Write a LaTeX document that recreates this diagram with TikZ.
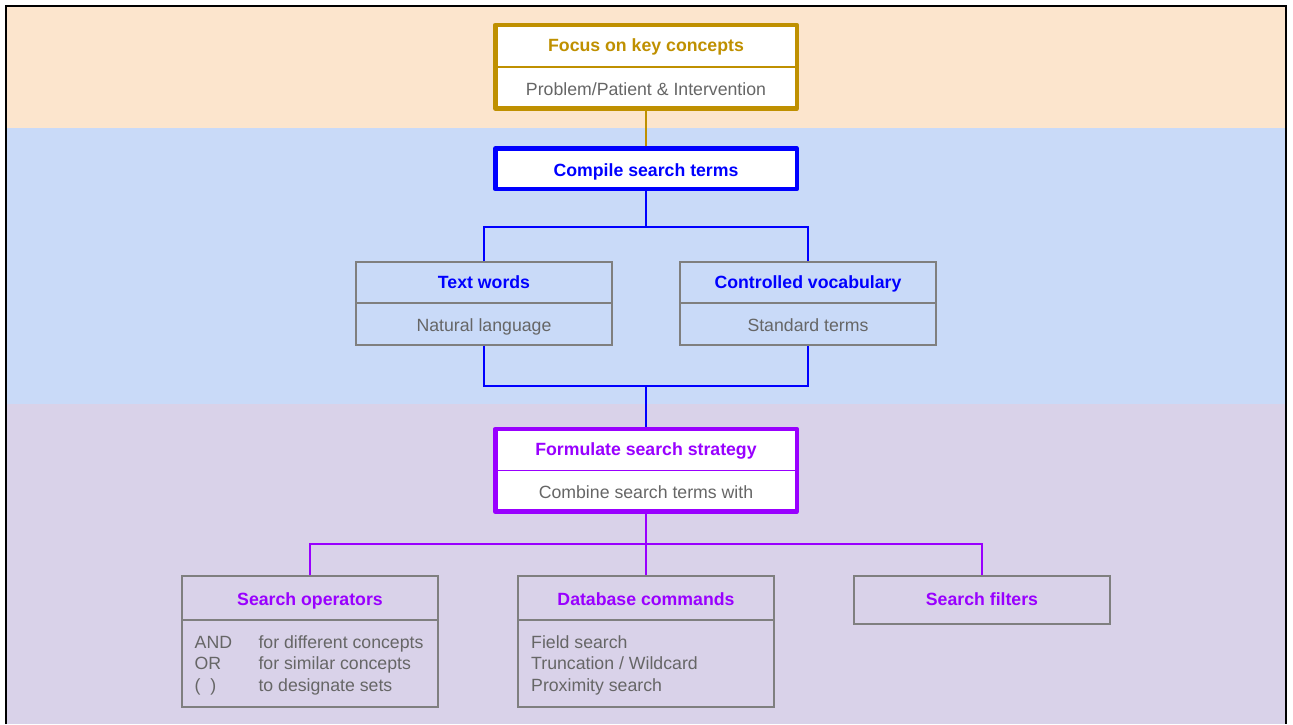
\documentclass[tikz,border=0pt]{standalone}
\usepackage{fontspec}
\setmainfont{Liberation Sans}
\definecolor{bandpeach}{HTML}{FCE5CD}
\definecolor{bandblue}{HTML}{C9DAF8}
\definecolor{bandpurple}{HTML}{D9D2E9}
\definecolor{gold}{HTML}{BF9000}
\definecolor{pureblue}{HTML}{0000FF}
\definecolor{violet}{HTML}{9900FF}
\definecolor{txtgray}{HTML}{666666}
\definecolor{linegray}{HTML}{7F7F7F}
\begin{document}
\begin{tikzpicture}[x=1pt,y=-1pt,
  boxbase/.style={draw, rectangle, inner sep=0pt},
  heavybox/.style={boxbase, fill=white, line width=4.5pt, line join=round, minimum width=301.5pt},
  lightbox/.style={boxbase, draw=linegray, line width=1.5pt, minimum width=256pt},
  label/.style={font=\fontsize{17.7}{21.5}\selectfont, inner sep=0pt},
  headtext/.style={label, font=\fontsize{17.7}{21.5}\selectfont\bfseries, anchor=base},
  bodytext/.style={label, text=txtgray, anchor=base},
  listtext/.style={label, text=txtgray, anchor=base west},
  wire/.style={line width=1.5pt}
]
\useasboundingbox (0,0) rectangle (1293,724);
\fill[white] (0,0) rectangle (1293,724);

% coloured bands
\fill[bandpeach]  (6,6) rectangle (1286,128.3);
\fill[bandblue]   (6,128.3) rectangle (1286,404);
\fill[bandpurple] (6,404) rectangle (1286,724);
\draw[black, line width=2pt] (6,724) -- (6,6) -- (1285.7,6) -- (1285.7,724);

% main steps
\node[heavybox, draw=gold, minimum height=83.7pt] (focus) at (646,66.65) {};
\node[heavybox, draw=pureblue, minimum height=40.5pt] (compile) at (646,168.75) {};
\node[heavybox, draw=violet, minimum height=82.7pt] (formulate) at (646,470.35) {};

% term sources
\node[lightbox, minimum height=83pt] (textw) at (484,303.5) {};
\node[lightbox, minimum height=83pt] (ctrl) at (808,303.5) {};

% strategy tools
\node[lightbox, minimum height=131pt] (ops) at (310,641.5) {};
\node[lightbox, minimum height=131pt] (db) at (646,641.5) {};
\node[lightbox, minimum height=48pt] (filt) at (982,600) {};

% dividers
\draw[gold, line width=1.5pt] (497,67) -- (795,67);
\draw[violet, line width=1.5pt] (497,470.3) -- (795,470.3);
\draw[linegray, line width=1.5pt] (356,303) -- (612,303);
\draw[linegray, line width=1.5pt] (680,303) -- (936,303);
\draw[linegray, line width=1.5pt] (182,620) -- (438,620);
\draw[linegray, line width=1.5pt] (518,620) -- (774,620);

% connectors
\coordinate (j1) at (646,227);
\coordinate (j2) at (646,386);
\coordinate (j3) at (646,544);
\draw[wire, gold] (focus.south) -- (compile.north);
\draw[wire, pureblue] (compile.south) -- (j1);
\draw[wire, pureblue] (textw.north) |- (j1) -| (ctrl.north);
\draw[wire, pureblue] (textw.south) |- (j2) -| (ctrl.south);
\draw[wire, pureblue] (j2) -- (formulate.north);
\draw[wire, violet] (formulate.south) -- (db.north);
\draw[wire, violet] (ops.north) |- (j3) -| (filt.north);

% texts
\node[headtext, text=gold] (focusT) at (646,51.8) {Focus on key concepts};
\node[bodytext] (focusB) at (646,95) {Problem/Patient \& Intervention};
\node[headtext, text=pureblue] (compileT) at (646,176) {Compile search terms};
\node[headtext, text=pureblue] (textwT) at (484,288) {Text words};
\node[bodytext] (textwB) at (484,331) {Natural language};
\node[headtext, text=pureblue] (ctrlT) at (808,288) {Controlled vocabulary};
\node[bodytext] (ctrlB) at (808,331) {Standard terms};
\node[headtext, text=violet] (formT) at (646,455) {Formulate search strategy};
\node[bodytext] (formB) at (646,498) {Combine search terms with};
\node[headtext, text=violet] (opsT) at (310,605) {Search operators};
\node[headtext, text=violet] (dbT) at (646,605) {Database commands};
\node[headtext, text=violet] (filtT) at (982,605) {Search filters};

\node[listtext] (opA) at (194.5,648) {AND};
\node[listtext] (opB) at (194.5,669.5) {OR};
\node[listtext] (opC) at (194.5,691) {(\ \ )};
\node[listtext] (opAd) at (258.3,648) {for different concepts};
\node[listtext] (opBd) at (258.3,669.5) {for similar concepts};
\node[listtext] (opCd) at (258.3,691) {to designate sets};

\node[listtext] (dbA) at (531,648) {Field search};
\node[listtext] (dbB) at (531,669.5) {Truncation / Wildcard};
\node[listtext] (dbC) at (531,691) {Proximity search};
\end{tikzpicture}
\end{document}
